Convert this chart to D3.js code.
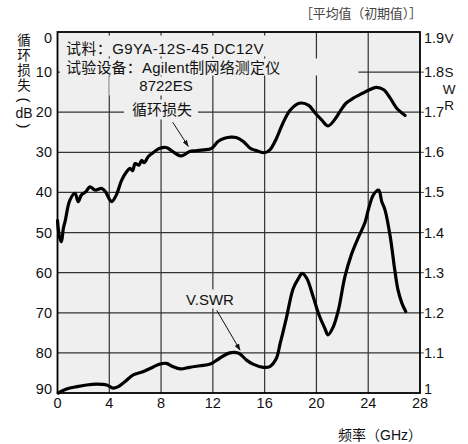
<!DOCTYPE html>
<html>
<head>
<meta charset="utf-8">
<script src="https://cdn.jsdelivr.net/npm/d3@7"></script>
<style>
  html, body { margin: 0; padding: 0; background: #fff; }
  svg { display: block; }
  text { font-family: "Liberation Sans", Arial, "Noto Sans CJK SC", sans-serif; fill: #111; }
  .cjk { font-family: "Liberation Sans", "Noto Sans CJK SC", sans-serif; }
</style>
</head>
<body>
<svg id="chart" width="468" height="444"></svg>
<script>
// Frequency axis (GHz) and tick labels
const freqTicks = [0, 4, 8, 12, 16, 20, 24, 28];
const dbTicks = [0, 10, 20, 30, 40, 50, 60, 70, 80, 90];
const vswrTicks = [1.9, 1.8, 1.7, 1.6, 1.5, 1.4, 1.3, 1.2, 1.1, 1.0];
const vswrTickLabels = ["1.9", "1.8", "1.7", "1.6", "1.5", "1.4", "1.3", "1.2", "1.1", "1"];

// Return loss (dB) vs frequency
const rlFreq = [0, 0.15, 0.3, 0.45, 0.6, 0.95, 1.35, 1.6, 1.85, 2.2, 2.5, 2.9, 3.4, 3.7, 4.05, 4.2, 4.55, 4.95, 5.35, 5.6, 5.8, 6.0, 6.3, 6.5, 6.7, 7.0, 7.5, 7.9, 8.4, 8.9, 9.5, 9.85, 10.2, 10.7, 11.3, 11.9, 12.4, 12.9, 13.4, 13.8, 14.35, 14.9, 15.4, 16.0, 16.4, 16.9, 17.4, 17.95, 18.5, 18.85, 19.4, 19.9, 20.4, 20.9, 21.4, 21.9, 22.3, 22.85, 23.6, 24.1, 24.6, 25.2, 25.7, 26.2, 26.85];
const rlDb = [47, 51, 52.3, 49, 47, 42, 40.2, 42.3, 40.6, 39.8, 38.6, 39.4, 39, 39.8, 41.9, 42.3, 40.6, 37, 34.8, 34, 34.6, 32.8, 33.2, 32, 32.6, 31.1, 29.8, 29, 28.8, 29.8, 30.9, 30.5, 29.8, 29.6, 29.4, 29, 27.3, 26.5, 26.2, 26.3, 27.3, 29, 29.6, 30.1, 29.4, 26.6, 22.8, 19.6, 18, 17.7, 18.3, 20.2, 21.9, 23.4, 21.9, 19.4, 17.7, 16.5, 15.2, 14.4, 13.8, 14.4, 16.5, 19, 20.8];

// V.SWR vs frequency
const vsFreq = [0.06, 0.7, 1.5, 2.25, 3.0, 3.8, 4.3, 4.7, 5.2, 5.85, 6.6, 7.4, 7.9, 8.4, 8.9, 9.5, 10.2, 11.0, 11.8, 12.5, 13.3, 14.0, 14.6, 15.1, 15.9, 16.4, 16.9, 17.2, 17.4, 17.7, 18.2, 18.6, 18.9, 19.25, 19.75, 20.15, 20.65, 20.9, 21.3, 21.7, 22.2, 22.7, 23.2, 23.75, 24.0, 24.4, 24.8, 25.05, 25.3, 25.7, 26.05, 26.3, 26.6, 26.9];
const vsVal = [1.0, 1.01, 1.016, 1.02, 1.022, 1.02, 1.012, 1.016, 1.028, 1.045, 1.053, 1.065, 1.072, 1.074, 1.066, 1.06, 1.064, 1.068, 1.072, 1.086, 1.1, 1.099, 1.082, 1.072, 1.064, 1.066, 1.086, 1.124, 1.149, 1.19, 1.26, 1.285, 1.298, 1.286, 1.24, 1.199, 1.161, 1.145, 1.165, 1.207, 1.29, 1.345, 1.385, 1.425, 1.456, 1.494, 1.506, 1.477, 1.456, 1.39, 1.307, 1.257, 1.224, 1.203];

const plotBg = "#eeefee";
const svg = d3.select("#chart");
const L = 57.5, R = 420, T = 32, B = 393;

const x = d3.scaleLinear().domain([0, 28]).range([L, R]);
const yDb = d3.scaleLinear().domain([0, 90]).range([T, B]);
const yV = d3.scaleLinear().domain([1.0, 1.9]).range([B, T]);

// plot background
svg.append("rect").attr("x", L).attr("y", T).attr("width", R - L).attr("height", B - T).attr("fill", plotBg);

// grid
const grid = svg.append("g").attr("stroke", "#333").attr("stroke-width", 1.2);
grid.selectAll("line.v").data(freqTicks.slice(1, -1)).join("line")
  .attr("x1", d => x(d)).attr("x2", d => x(d)).attr("y1", T).attr("y2", B);
grid.selectAll("line.h").data(dbTicks.slice(1, -1)).join("line")
  .attr("x1", L).attr("x2", R).attr("y1", d => yDb(d)).attr("y2", d => yDb(d));

// right-side tick marks
svg.append("g").attr("stroke", "#555").attr("stroke-width", 1)
  .selectAll("line").data(vswrTicks.slice(1, -1)).join("line")
  .attr("x1", R).attr("x2", R + 4).attr("y1", d => yV(d)).attr("y2", d => yV(d));

// annotation texts with background patches that hide the grid
const notes = svg.append("g");
const masks = notes.append("g");
const noteText = notes.append("g").attr("class", "cjk").style("font-size", "15px");

function addNote(str, tx, ty, pad, anchor, spacing) {
  const t = noteText.append("text").attr("x", tx).attr("y", ty)
    .attr("dominant-baseline", "central").attr("text-anchor", anchor || "start")
    .style("letter-spacing", (spacing || 0) + "px").text(str);
  const b = t.node().getBBox();
  masks.append("rect")
    .attr("x", b.x - pad[0]).attr("y", b.y - pad[1])
    .attr("width", b.width + pad[0] + pad[2]).attr("height", b.height + pad[1] + pad[3])
    .attr("fill", plotBg);
  return t;
}
addNote("试料：G9YA-12S-45  DC12V", 66, 48, [6, 4, 28, 0], "start", 0.4);
addNote("试验设备：Agilent制网络测定仪", 66, 67, [6, 0, 78, 0], "start", 0.2);
addNote("8722ES", 166, 85, [30, 0, 6, 2], "middle");
addNote("循环损失", 162, 109, [8, 1, 6, 2], "middle");
addNote("V.SWR", 210, 299, [3, 1, 3, 1], "middle");

// arrows for annotations
const defs = svg.append("defs");
defs.append("marker").attr("id", "arrow").attr("viewBox", "0 0 10 10")
  .attr("refX", 9).attr("refY", 5).attr("markerWidth", 7).attr("markerHeight", 7)
  .attr("orient", "auto-start-reverse")
  .append("path").attr("d", "M0,1.5 L10,5 L0,8.5 Z").attr("fill", "#111");

function arrow(f0, d0, f1, d1) {
  svg.append("line")
    .attr("x1", x(f0)).attr("y1", yDb(d0)).attr("x2", x(f1)).attr("y2", yDb(d1))
    .attr("stroke", "#111").attr("stroke-width", 1).attr("marker-end", "url(#arrow)");
}
arrow(8.9, 22.5, 10.1, 28.5);
arrow(12.3, 69.4, 14.1, 79.3);

// curves
const lineRl = d3.line().x(d => x(d[0])).y(d => yDb(d[1])).curve(d3.curveCatmullRom.alpha(0.5));
const lineVs = d3.line().x(d => x(d[0])).y(d => yV(d[1])).curve(d3.curveCatmullRom.alpha(0.5));

svg.append("path").datum(d3.zip(rlFreq, rlDb)).attr("d", lineRl)
  .attr("fill", "none").attr("stroke", "#000").attr("stroke-width", 3.2)
  .attr("stroke-linejoin", "round").attr("stroke-linecap", "round");
svg.append("path").datum(d3.zip(vsFreq, vsVal)).attr("d", lineVs)
  .attr("fill", "none").attr("stroke", "#000").attr("stroke-width", 3.2)
  .attr("stroke-linejoin", "round").attr("stroke-linecap", "round");

// frame
svg.append("rect").attr("x", L).attr("y", T).attr("width", R - L).attr("height", B - T)
  .attr("fill", "none").attr("stroke", "#000").attr("stroke-width", 1.8);

// left tick labels (dB)
const fs = "14.5px";
svg.append("g").selectAll("text").data(dbTicks).join("text")
  .attr("x", 52).attr("y", d => Math.min(Math.max(yDb(d), 38), 389))
  .attr("text-anchor", "end").attr("dominant-baseline", "central")
  .style("font-size", fs).text(d => d);

// right tick labels (V.SWR)
svg.append("g").selectAll("text").data(vswrTicks).join("text")
  .attr("x", 424).attr("y", d => Math.min(Math.max(yV(d), 38), 389))
  .attr("text-anchor", "start").attr("dominant-baseline", "central")
  .style("font-size", fs).text((d, i) => vswrTickLabels[i]);

// bottom tick labels (GHz)
svg.append("g").selectAll("text").data(freqTicks).join("text")
  .attr("x", d => x(d)).attr("y", 403)
  .attr("text-anchor", "middle").attr("dominant-baseline", "central")
  .style("font-size", fs).text(d => d);

// right axis title, stacked letters
const vTitle = [["V", 38], ["S", 72], ["W", 89], ["R", 105]];
svg.append("g").selectAll("text").data(vTitle).join("text")
  .attr("x", 449).attr("y", d => d[1])
  .attr("text-anchor", "middle").attr("dominant-baseline", "central")
  .style("font-size", "13.5px").text(d => d[0]);

// left axis title, stacked characters
const lTitle = [["循", 40], ["环", 55], ["损", 70], ["失", 85]];
const lt = svg.append("g").attr("class", "cjk");
lt.selectAll("text").data(lTitle).join("text")
  .attr("x", 24).attr("y", d => d[1])
  .attr("text-anchor", "middle").attr("dominant-baseline", "central")
  .style("font-size", "13.5px").text(d => d[0]);
// parentheses turned sideways around the unit
[["(", 100], [")", 126]].forEach(([ch, py]) => {
  lt.append("text").attr("x", 0).attr("y", 0)
    .attr("transform", `translate(24,${py}) rotate(90)`)
    .attr("text-anchor", "middle").attr("dominant-baseline", "central")
    .style("font-size", "15px").style("font-weight", 300).text(ch);
});
lt.append("text").attr("x", 24).attr("y", 113).attr("text-anchor", "middle")
  .attr("dominant-baseline", "central").style("font-size", "14px").text("dB");

// header note and x axis title
svg.append("text").attr("class", "cjk").attr("x", 300).attr("y", 13)
  .attr("textLength", 122).attr("lengthAdjust", "spacing")
  .attr("dominant-baseline", "central")
  .style("font-size", "13px").style("fill", "#444")
  .text("［平均值（初期值）］");
svg.append("text").attr("class", "cjk").attr("x", 338).attr("y", 435)
  .attr("textLength", 84).attr("lengthAdjust", "spacing")
  .attr("dominant-baseline", "central")
  .style("font-size", "14px").text("频率（GHz）");
</script>
</body>
</html>
